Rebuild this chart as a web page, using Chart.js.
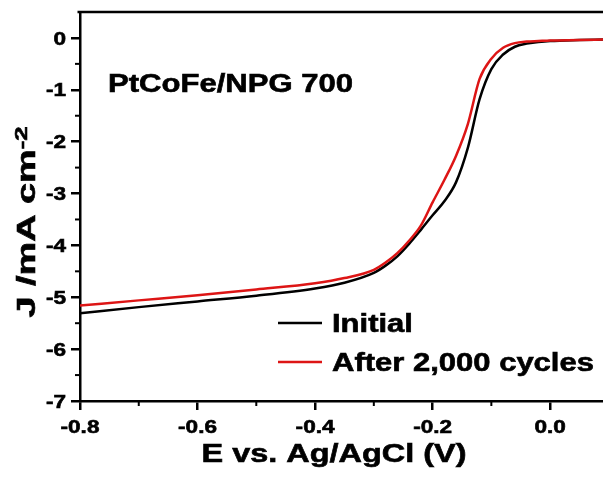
<!DOCTYPE html>
<html>
<head>
<meta charset="utf-8">
<script src="https://cdn.jsdelivr.net/npm/chart.js@4"></script>
<style>
  html, body { margin: 0; padding: 0; background: #fff; }
</style>
</head>
<body>
<canvas id="lsvChart" width="603" height="479"></canvas>
<script>
// potential, V vs Ag/AgCl
const potential = [-0.8, -0.7, -0.6, -0.5, -0.4, -0.35, -0.3, -0.28, -0.26, -0.24, -0.22, -0.2,
  -0.18, -0.16, -0.14, -0.12, -0.1, -0.08, -0.06, -0.04, -0.02, 0, 0.05, 0.09];
// current density, mA cm-2
const initialJ = [-5.31, -5.19, -5.08, -4.97, -4.83, -4.72, -4.53, -4.39, -4.21, -3.97, -3.70, -3.42,
  -3.15, -2.78, -2.12, -1.18, -0.60, -0.32, -0.17, -0.11, -0.08, -0.06, -0.04, -0.03];
const cycledJ = [-5.16, -5.06, -4.96, -4.85, -4.73, -4.63, -4.47, -4.33, -4.15, -3.91, -3.62, -3.17,
  -2.74, -2.27, -1.66, -0.79, -0.40, -0.19, -0.10, -0.07, -0.06, -0.05, -0.04, -0.03];

const xTicks = [-0.8, -0.6, -0.4, -0.2, 0.0];
const xMinorTicks = [-0.7, -0.5, -0.3, -0.1];
const yTicks = [0, -1, -2, -3, -4, -5, -6, -7];
const yMinorTicks = [-0.5, -1.5, -2.5, -3.5, -4.5, -5.5, -6.5];

const seriesNames = ['Initial', 'After 2,000 cycles'];
const noteText = 'PtCoFe/NPG 700';

const FONT = '"Liberation Sans", Arial, sans-serif';

function toPoints(ys) {
  return potential.map((x, i) => ({x: x, y: ys[i]}));
}

// text in the figure is drawn wider than normal Arial, so stretch it
function drawText(ctx, text, x, y, size, sx, align) {
  ctx.save();
  ctx.font = 'bold ' + size + 'px ' + FONT;
  ctx.textAlign = align || 'left';
  ctx.textBaseline = 'alphabetic';
  ctx.translate(x, y);
  ctx.scale(sx, 1);
  ctx.fillStyle = '#000';
  ctx.strokeStyle = '#000';
  ctx.lineWidth = 0.6;
  ctx.fillText(text, 0, 0);
  ctx.strokeText(text, 0, 0);
  ctx.restore();
}

function fitText(ctx, text, x, y, size, width, align) {
  ctx.save();
  ctx.font = 'bold ' + size + 'px ' + FONT;
  const w = ctx.measureText(text).width;
  ctx.restore();
  drawText(ctx, text, x, y, size, width / w, align);
}

const decorations = {
  id: 'decorations',
  afterDraw(chart) {
    const ctx = chart.ctx;
    const area = chart.chartArea;
    const xs = chart.scales.x;
    const ys = chart.scales.y;

    ctx.save();
    ctx.strokeStyle = '#000';
    ctx.lineWidth = 2.5;
    // top frame line
    ctx.beginPath();
    ctx.moveTo(area.left - 2.5, area.top);
    ctx.lineTo(area.right, area.top);
    ctx.stroke();

    // minor ticks
    ctx.lineWidth = 2;
    xMinorTicks.forEach(v => {
      const px = xs.getPixelForValue(v);
      ctx.beginPath();
      ctx.moveTo(px, area.bottom);
      ctx.lineTo(px, area.bottom + 5);
      ctx.stroke();
    });
    yMinorTicks.forEach(v => {
      const py = ys.getPixelForValue(v);
      ctx.beginPath();
      ctx.moveTo(area.left, py);
      ctx.lineTo(area.left - 5, py);
      ctx.stroke();
    });
    ctx.restore();

    // tick labels
    xTicks.forEach(v => {
      drawText(ctx, v.toFixed(1), xs.getPixelForValue(v), 433, 18.5, 1.22, 'center');
    });
    yTicks.forEach(v => {
      drawText(ctx, String(v), 66, ys.getPixelForValue(v) + 6.6, 18.5, 1.22, 'right');
    });

    // axis titles
    fitText(ctx, 'E vs. Ag/AgCl (V)', 334, 462, 26, 265, 'center');

    ctx.save();
    ctx.translate(35, 222);
    ctx.rotate(-Math.PI / 2);
    ctx.font = 'bold 25px ' + FONT;
    const wMain = ctx.measureText('J /mA cm').width;
    ctx.font = 'bold 17px ' + FONT;
    const wSup = ctx.measureText('-2').width;
    const total = wMain + wSup;
    ctx.scale(191 / total, 1);
    ctx.fillStyle = '#000';
    ctx.strokeStyle = '#000';
    ctx.lineWidth = 0.6;
    ctx.font = 'bold 25px ' + FONT;
    ctx.fillText('J /mA cm', -total / 2, 0);
    ctx.strokeText('J /mA cm', -total / 2, 0);
    ctx.font = 'bold 17px ' + FONT;
    ctx.fillText('-2', -total / 2 + wMain, -8);
    ctx.strokeText('-2', -total / 2 + wMain, -8);
    ctx.restore();

    // sample name
    fitText(ctx, noteText, 108, 92, 25.5, 245, 'left');

    // legend
    const rows = [
      {name: seriesNames[0], color: '#000000', y: 323},
      {name: seriesNames[1], color: '#dd1515', y: 362}
    ];
    rows.forEach(r => {
      ctx.save();
      ctx.strokeStyle = r.color;
      ctx.lineWidth = 2.5;
      ctx.beginPath();
      ctx.moveTo(278, r.y);
      ctx.lineTo(322, r.y);
      ctx.stroke();
      ctx.restore();
      drawText(ctx, r.name, 332, r.y + 9, 25, 1.24, 'left');
    });
  }
};

const data = {
  datasets: [
    {
      label: seriesNames[0],
      data: toPoints(initialJ),
      borderColor: '#000000',
      borderWidth: 2.5,
      order: 1
    },
    {
      label: seriesNames[1],
      data: toPoints(cycledJ),
      borderColor: '#dd1515',
      borderWidth: 2.5,
      order: 0
    }
  ]
};

const config = {
  type: 'scatter',
  data,
  options: {
    responsive: false,
    animation: false,
    layout: {padding: {top: 12, right: 0, bottom: 0, left: 0}},
    datasets: {
      scatter: {
        showLine: true,
        pointRadius: 0,
        cubicInterpolationMode: 'monotone'
      }
    },
    plugins: {
      legend: {display: false},
      tooltip: {enabled: false}
    },
    scales: {
      x: {
        type: 'linear',
        min: -0.8,
        max: 0.09,
        afterBuildTicks: s => { s.ticks = xTicks.map(v => ({value: v})); },
        afterFit: s => { s.height = 78; },
        ticks: {display: false},
        grid: {drawOnChartArea: false, color: '#000', lineWidth: 2.5, tickLength: 9},
        border: {color: '#000', width: 2.5}
      },
      y: {
        type: 'linear',
        min: -7,
        max: 0.5,
        afterBuildTicks: s => { s.ticks = yTicks.map(v => ({value: v})); },
        afterFit: s => { s.width = 80; },
        ticks: {display: false},
        grid: {drawOnChartArea: false, color: '#000', lineWidth: 2.5, tickLength: 9},
        border: {color: '#000', width: 2.5}
      }
    }
  },
  plugins: [decorations]
};

const lsvChart = new Chart(document.getElementById('lsvChart'), config);
</script>
</body>
</html>
